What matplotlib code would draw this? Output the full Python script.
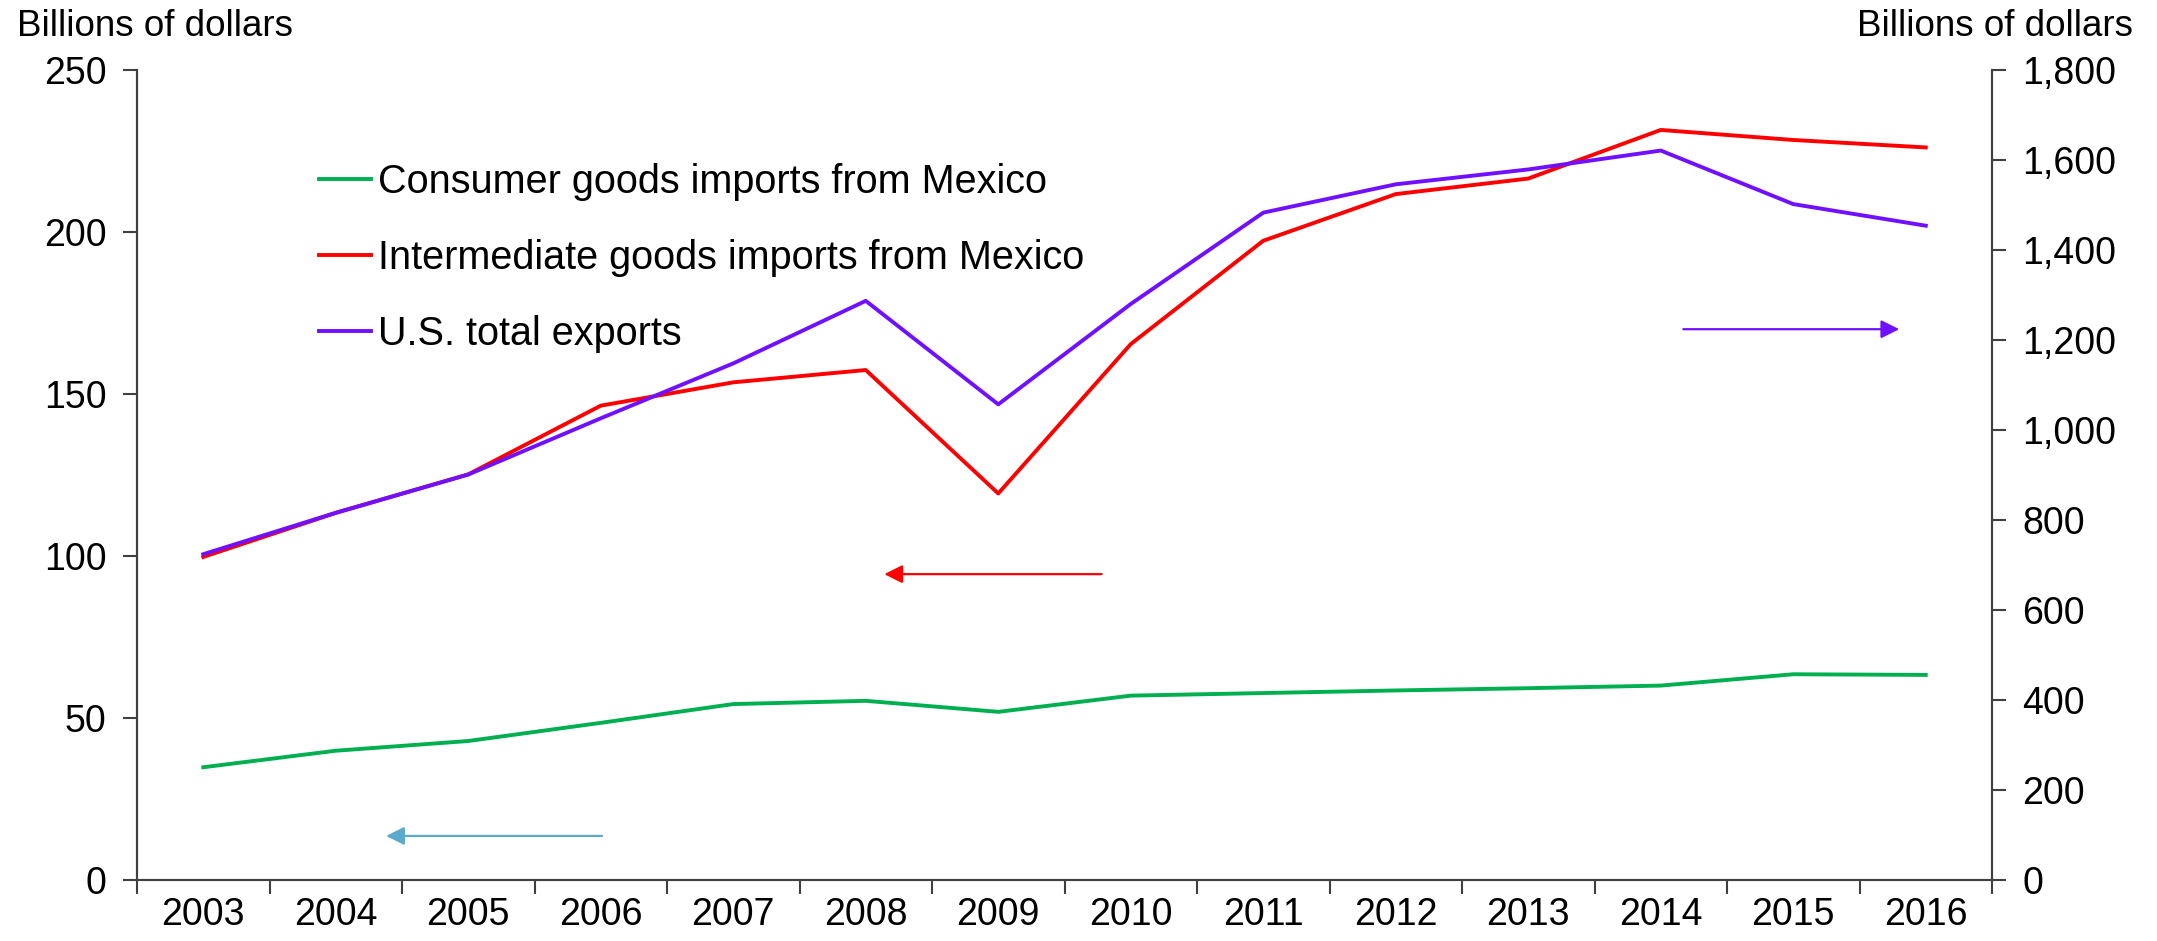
import matplotlib
matplotlib.use("Agg")
import matplotlib.pyplot as plt
import numpy as np

years = ["2003", "2004", "2005", "2006", "2007", "2008", "2009", "2010",
         "2011", "2012", "2013", "2014", "2015", "2016"]
consumer = [34.8, 39.9, 42.9, 48.5, 54.3, 55.3, 51.9, 56.9, 57.7, 58.5, 59.2, 60.0, 63.5, 63.3]
intermediate = [99.7, 113.3, 125.2, 146.4, 153.6, 157.4, 119.3, 165.4, 197.3, 211.7, 216.5, 231.5, 228.4, 226.1]
exports = [724, 816, 901, 1026, 1148, 1287, 1057, 1280, 1483, 1546, 1579, 1621, 1502, 1454]
left_ticks = [0, 50, 100, 150, 200, 250]
right_ticks = [0, 200, 400, 600, 800, 1000, 1200, 1400, 1600, 1800]

plt.rcParams['font.family'] = ['Liberation Sans', 'DejaVu Sans']

GREEN = "#00B050"
RED = "#FF0000"
PURPLE = "#7010FF"
BLUE = "#5BAACC"
SPINE = "#404040"

fig = plt.figure(figsize=(21.57, 9.41), dpi=100)
ax = fig.add_axes([137/2157, 61/941, (1992-137)/2157, (880-70)/941])
ax2 = ax.twinx()

x = np.arange(len(years))
l1, = ax.plot(x, consumer, color=GREEN, lw=2.8, label="Consumer goods imports from Mexico")
l2, = ax.plot(x, intermediate, color=RED, lw=2.8, label="Intermediate goods imports from Mexico")
l3, = ax2.plot(x, exports, color=PURPLE, lw=2.8, label="U.S. total exports")

ax.set_xlim(-0.5, len(years) - 0.5)
ax.set_ylim(0, 250)
ax2.set_ylim(0, 1800)
ax.set_yticks(left_ticks)
ax.set_yticklabels([f"{v:,}" for v in left_ticks])
ax2.set_yticks(right_ticks)
ax2.set_yticklabels([f"{v:,}" for v in right_ticks])

ax.set_xticks(np.arange(-0.5, len(years), 1.0))
ax.set_xticklabels([])
ax.set_xticks(x, minor=True)
ax.set_xticklabels(years, minor=True)
ax.tick_params(axis='x', which='minor', length=0, labelsize=27, pad=12)
ax.tick_params(axis='x', which='major', length=10, width=1.5, color=SPINE, direction='out')
ax.tick_params(axis='y', length=10, width=1.5, color=SPINE, labelsize=27, pad=12, direction='out')
ax2.tick_params(axis='y', length=10, width=1.5, color=SPINE, labelsize=27, pad=12, direction='out')

for a in (ax, ax2):
    a.spines['top'].set_visible(False)
    for s in ('left', 'right', 'bottom'):
        a.spines[s].set_color(SPINE)
        a.spines[s].set_linewidth(1.5)

fig.text(17/2157, 1 - 36/941, "Billions of dollars", fontsize=26.5, ha='left', va='baseline')
fig.text(2133/2157, 1 - 36/941, "Billions of dollars", fontsize=26.5, ha='right', va='baseline')

leg = ax.legend(handles=[l1, l2, l3], loc='upper left', bbox_to_anchor=(319/2157, 1 - 163/941),
                bbox_transform=fig.transFigure, frameon=False, fontsize=28.5,
                handlelength=1.31, handletextpad=0.17, labelspacing=0.96, borderpad=0, borderaxespad=0)

aprops = '-|>,head_length=1.1,head_width=0.55'
ax.annotate("", xy=(5.14, 94.4), xytext=(6.78, 94.4),
            arrowprops=dict(arrowstyle=aprops, color=RED, lw=1.6, shrinkA=0, shrinkB=0))
ax.annotate("", xy=(1.38, 13.6), xytext=(3.01, 13.6),
            arrowprops=dict(arrowstyle=aprops, color=BLUE, lw=1.6, shrinkA=0, shrinkB=0))
ax2.annotate("", xy=(12.80, 1224), xytext=(11.17, 1224),
             arrowprops=dict(arrowstyle=aprops, color=PURPLE, lw=1.6, shrinkA=0, shrinkB=0))

fig.savefig("out.png", dpi=100)
